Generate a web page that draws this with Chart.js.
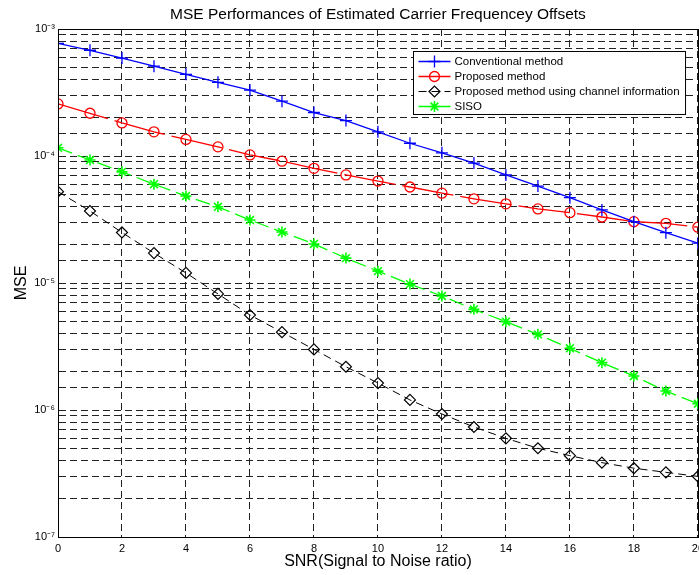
<!DOCTYPE html>
<html>
<head>
<meta charset="utf-8">
<title>MSE Performances</title>
<script src="https://cdn.jsdelivr.net/npm/chart.js@4.4.1/dist/chart.umd.min.js"></script>
<style>
    html, body { margin: 0; padding: 0; background: #fff; overflow: hidden; }
    #wrap { width: 709px; height: 575px; }
</style>
</head>
<body>
<div id="wrap"><canvas id="mseChart" width="709" height="575"></canvas></div>
<script>
// SNR points (dB)
const snr = [0, 1, 2, 3, 4, 5, 6, 7, 8, 9, 10, 11, 12, 13, 14, 15, 16, 17, 18, 19, 20];

// MSE values
const conventional = [7.7e-4, 6.8e-4, 5.9e-4, 5.1e-4, 4.4e-4, 3.8e-4, 3.3e-4, 2.7e-4, 2.2e-4, 1.9e-4,
    1.55e-4, 1.26e-4, 1.06e-4, 8.8e-5, 7.1e-5, 5.8e-5, 4.7e-5, 3.76e-5, 3.04e-5, 2.49e-5, 2.06e-5];
const proposed = [2.57e-4, 2.17e-4, 1.82e-4, 1.55e-4, 1.35e-4, 1.18e-4, 1.02e-4, 9.1e-5, 8.0e-5, 7.1e-5,
    6.35e-5, 5.7e-5, 5.1e-5, 4.6e-5, 4.2e-5, 3.83e-5, 3.58e-5, 3.31e-5, 3.04e-5, 2.95e-5, 2.75e-5];
const proposedChannel = [5.24e-5, 3.69e-5, 2.5e-5, 1.72e-5, 1.2e-5, 8.2e-6, 5.6e-6, 4.1e-6, 3.0e-6, 2.19e-6,
    1.63e-6, 1.2e-6, 9.3e-7, 7.35e-7, 5.98e-7, 5.0e-7, 4.37e-7, 3.85e-7, 3.48e-7, 3.23e-7, 3.0e-7];
const siso = [1.16e-4, 9.3e-5, 7.5e-5, 6.0e-5, 4.84e-5, 3.98e-5, 3.13e-5, 2.52e-5, 2.03e-5, 1.57e-5,
    1.24e-5, 9.8e-6, 7.9e-6, 6.2e-6, 4.96e-6, 3.94e-6, 3.06e-6, 2.36e-6, 1.85e-6, 1.41e-6, 1.12e-6];

const seriesLabels = ['Conventional method', 'Proposed method',
    'Proposed method using channel information', 'SISO'];

// axis ticks
const xTicks = [0, 2, 4, 6, 8, 10, 12, 14, 16, 18, 20];
const yRange = [1e-7, 1e-3];

const FONT = '"Liberation Sans", Arial, Helvetica, sans-serif';
const SUP = { '-': '\u207B', '0': '\u2070', '1': '\u00B9', '2': '\u00B2', '3': '\u00B3',
    '4': '\u2074', '5': '\u2075', '6': '\u2076', '7': '\u2077', '8': '\u2078', '9': '\u2079' };

function toPoints(values) {
    return snr.map((x, i) => ({ x: x, y: values[i] }));
}

function decadeLabel(value) {
    const e = Math.log10(value);
    if (Math.abs(e - Math.round(e)) > 1e-6) return '';
    return '10' + String(Math.round(e)).split('').map(c => SUP[c]).join('');
}

// plot box + legend drawn inside the axes, MATLAB style
const axesDecor = {
    id: 'axesDecor',
    afterDraw(chart) {
        const { ctx, chartArea: ca } = chart;
        ctx.save();
        ctx.strokeStyle = '#000';
        ctx.lineWidth = 1;
        ctx.setLineDash([]);
        ctx.strokeRect(Math.round(ca.left) + 0.5, Math.round(ca.top) + 0.5,
            Math.round(ca.right - ca.left), Math.round(ca.bottom - ca.top));

        // legend
        ctx.font = '11.5px ' + FONT;
        const sets = chart.data.datasets;
        const textW = Math.max(...sets.map(d => ctx.measureText(d.label).width));
        const sampleW = 32;
        const boxW = 5 + sampleW + 4 + textW + 6;
        const rowH = 15;
        const boxH = sets.length * rowH + 3;
        const bx = Math.round(ca.right - 13 - boxW) + 0.5;
        const by = Math.round(ca.top + 22) + 0.5;
        ctx.fillStyle = '#fff';
        ctx.fillRect(bx, by, boxW, boxH);
        ctx.strokeRect(bx, by, boxW, boxH);

        sets.forEach((d, i) => {
            const cy = by + 10 + i * rowH;
            const x0 = bx + 5;
            ctx.strokeStyle = d.borderColor;
            ctx.lineWidth = d.borderWidth;
            ctx.setLineDash(d.legendDash || []);
            ctx.beginPath();
            ctx.moveTo(x0, cy);
            ctx.lineTo(x0 + sampleW, cy);
            ctx.stroke();
            ctx.setLineDash([]);
            ctx.lineWidth = d.pointBorderWidth;
            ctx.fillStyle = 'rgba(0,0,0,0)';
            if (Chart.helpers && Chart.helpers.drawPoint) {
                Chart.helpers.drawPoint(ctx, {
                    pointStyle: d.pointStyle, rotation: 0,
                    radius: d.pointRadius, borderWidth: d.pointBorderWidth
                }, x0 + sampleW / 2, cy);
            }
            ctx.fillStyle = '#000';
            ctx.textBaseline = 'middle';
            ctx.textAlign = 'left';
            ctx.fillText(d.label, x0 + sampleW + 4, cy);
        });
        ctx.restore();
    }
};

const ctx = document.getElementById('mseChart');
new Chart(ctx, {
    type: 'line',
    data: {
        datasets: [{
            label: seriesLabels[0],
            data: toPoints(conventional),
            borderColor: '#0000ff',
            borderWidth: 1.3,
            pointStyle: 'cross',
            pointRadius: 6,
            pointBorderWidth: 1.3,
            pointBorderColor: '#0000ff',
            backgroundColor: 'rgba(0,0,0,0)'
        }, {
            label: seriesLabels[1],
            data: toPoints(proposed),
            borderColor: '#ff0000',
            borderWidth: 1.3,
            borderDash: [52, 7],
            legendDash: [],
            pointStyle: 'circle',
            pointRadius: 5,
            pointBorderWidth: 1.3,
            pointBorderColor: '#ff0000',
            pointBackgroundColor: 'rgba(0,0,0,0)',
            backgroundColor: 'rgba(0,0,0,0)'
        }, {
            label: seriesLabels[2],
            data: toPoints(proposedChannel),
            borderColor: '#000000',
            borderWidth: 1,
            borderDash: [8, 5],
            legendDash: [8, 5],
            pointStyle: 'rectRot',
            pointRadius: 5.5,
            pointBorderWidth: 1.2,
            pointBorderColor: '#000000',
            pointBackgroundColor: 'rgba(0,0,0,0)',
            backgroundColor: 'rgba(0,0,0,0)'
        }, {
            label: seriesLabels[3],
            data: toPoints(siso),
            borderColor: '#00ff00',
            borderWidth: 1.3,
            borderDash: [15, 6],
            legendDash: [],
            pointStyle: 'star',
            pointRadius: 5.5,
            pointBorderWidth: 1.6,
            pointBorderColor: '#00ff00',
            backgroundColor: 'rgba(0,0,0,0)'
        }]
    },
    options: {
        responsive: false,
        animation: false,
        devicePixelRatio: 1,
        layout: { padding: { left: 0, right: 0, top: 0, bottom: 0 } },
        plugins: {
            legend: { display: false },
            tooltip: { enabled: false },
            title: {
                display: true,
                fullSize: false,
                text: 'MSE Performances of Estimated Carrier Frequencey Offsets',
                color: '#000',
                font: { family: FONT, size: 15.5, weight: 'normal' },
                padding: { top: 5, bottom: 5.4 }
            }
        },
        scales: {
            x: {
                type: 'linear',
                min: 0,
                max: 20,
                afterBuildTicks: (scale) => { scale.ticks = xTicks.map(v => ({ value: v })); },
                afterFit: (scale) => { scale.height = 38; },
                ticks: {
                    color: '#000',
                    font: { family: FONT, size: 11 },
                    padding: 5,
                    maxRotation: 0,
                    autoSkip: false
                },
                grid: { color: '#222', lineWidth: 1, drawTicks: false, tickLength: 0 },
                border: { display: true, color: '#000', width: 1, dash: [7, 4] },
                title: {
                    display: true,
                    text: 'SNR(Signal to Noise ratio)',
                    color: '#000',
                    font: { family: FONT, size: 16 },
                    padding: { top: 0, bottom: 4 }
                }
            },
            y: {
                type: 'logarithmic',
                min: yRange[0],
                max: yRange[1],
                afterFit: (scale) => { scale.width = 58; },
                ticks: {
                    color: '#000',
                    font: { family: FONT, size: 11 },
                    padding: 3,
                    autoSkip: false,
                    callback: (value) => decadeLabel(value)
                },
                grid: { color: '#222', lineWidth: 1, drawTicks: false, tickLength: 0 },
                border: { display: true, color: '#000', width: 1, dash: [7, 4] },
                title: {
                    display: true,
                    text: 'MSE',
                    color: '#000',
                    font: { family: FONT, size: 16 },
                    padding: { top: 12, bottom: 0 }
                }
            }
        }
    },
    plugins: [axesDecor]
});
</script>
</body>
</html>
